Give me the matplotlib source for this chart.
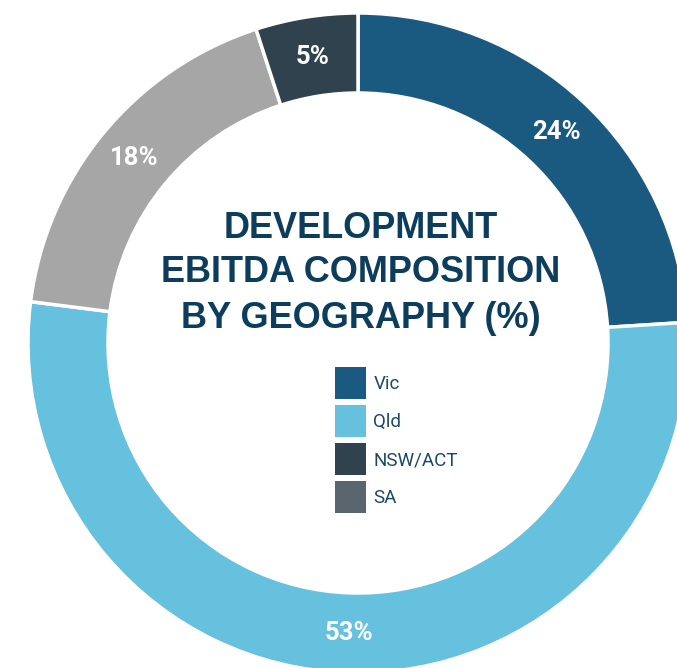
import matplotlib
matplotlib.use("Agg")
import matplotlib.pyplot as plt
from matplotlib.patches import Patch

# Data
categories = ["Vic", "Qld", "NSW/ACT", "SA"]
values = [24, 53, 5, 18]
slice_colors = ["#1b5a80", "#66c1df", "#2f424d", "#a6a6a6"]
legend_colors = ["#1b5a80", "#66c1df", "#2f424d", "#5a666e"]
pie_order = [0, 1, 3, 2]  # clockwise from top: Vic, Qld, SA, NSW/ACT
title_lines = ["DEVELOPMENT", "EBITDA COMPOSITION", "BY GEOGRAPHY (%)"]

W, H = 677, 668
fig = plt.figure(figsize=(W / 100, H / 100), dpi=100)
ax = fig.add_axes([0, 0, 1, 1])

cx, cy = 358, H - 343
R, ring = 330, 80

wedges, texts, autotexts = ax.pie(
    [values[i] for i in pie_order],
    colors=[slice_colors[i] for i in pie_order],
    startangle=90, counterclock=False,
    radius=R, center=(cx, cy),
    autopct=lambda p: f"{p:.0f}%", pctdistance=(R - ring / 2) / R,
    wedgeprops=dict(width=ring, edgecolor="white", linewidth=2.5),
    textprops=dict(color="white", fontsize=18.5, fontweight="bold", family="Roboto"),
)

ax.set_xlim(0, W)
ax.set_ylim(0, H)
ax.set_aspect("equal")
ax.axis("off")

title_y = [228, 272, 318]
for line, y in zip(title_lines, title_y):
    ax.text(cx + 3, H - y, line, ha="center", va="center", fontsize=26,
            fontweight="bold", color="#0d3d5c", family="Liberation Sans")

handles = [Patch(facecolor=c, edgecolor="none") for c in legend_colors]
fig.legend(handles, categories, loc="upper left",
           bbox_to_anchor=(335 / W, 1 - 367 / H), frameon=False,
           borderpad=0, borderaxespad=0,
           handlelength=1.65, handleheight=2.27, labelspacing=0.31,
           handletextpad=0.4, prop=dict(family="Roboto", size=13.5),
           labelcolor="#1d4866")

fig.savefig("out.png", dpi=100)
